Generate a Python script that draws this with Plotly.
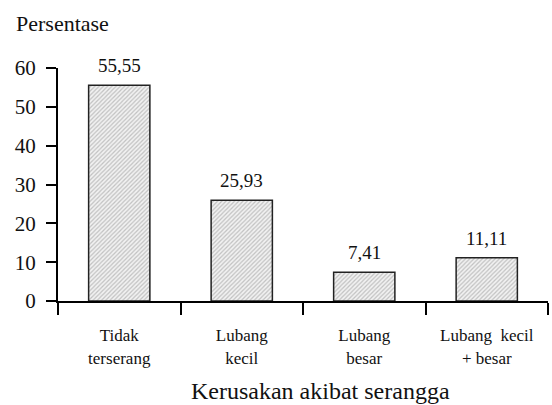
import plotly.graph_objects as go

categories = ["Tidak<br>terserang", "Lubang<br>kecil", "Lubang<br>besar", "Lubang\u2002kecil<br>+ besar"]
values = [55.55, 25.93, 7.41, 11.11]
value_labels = ["55,55", "25,93", "7,41", "11,11"]
y_ticks = [0, 10, 20, 30, 40, 50, 60]

FONT = "Liberation Serif, Times New Roman, serif"

fig = go.Figure()
fig.add_trace(go.Bar(
    x=categories, y=values, width=0.5,
    marker=dict(
        color="#f0f0f0",
        line=dict(color="#222", width=1.5),
        pattern=dict(shape="/", size=3, solidity=0.4, fgcolor="#909090", bgcolor="#f2f2f2"),
    ),
    hoverinfo="skip",
))

value_annotations = [
    dict(x=c, y=v, text=t, xref="x", yref="y", yanchor="bottom", yshift=7,
         showarrow=False, font=dict(family=FONT, size=19, color="#111"))
    for c, v, t in zip(categories, values, value_labels)
]

fig.update_layout(
    width=552, height=405,
    margin=dict(l=58, r=4, t=68, b=104),
    paper_bgcolor="white", plot_bgcolor="white",
    showlegend=False,
    font=dict(family=FONT, color="#111"),
    xaxis=dict(
        type="category", showline=True, linecolor="black", linewidth=2,
        ticks="outside", tickson="boundaries", ticklen=12, tickwidth=2, tickcolor="black",
        tickfont=dict(family=FONT, size=17), ticklabelstandoff=18,
        showgrid=False, zeroline=False,
    ),
    yaxis=dict(
        range=[0, 60], tickvals=y_ticks, showline=True, linecolor="black", linewidth=2,
        ticks="outside", ticklen=10, tickwidth=2, tickcolor="black",
        tickfont=dict(family=FONT, size=21), ticklabelstandoff=6,
        showgrid=False, zeroline=False,
    ),
    annotations=value_annotations + [
        dict(text="Persentase", xref="paper", yref="paper",
             x=(14 - 58) / 490, y=1 + (68 - 24) / 233, xanchor="left", yanchor="middle",
             showarrow=False, font=dict(family=FONT, size=22, color="#111")),
        dict(text="Kerusakan akibat serangga", xref="paper", yref="paper",
             x=(320 - 58) / 490, y=-(391 - 301) / 233, xanchor="center", yanchor="middle",
             showarrow=False, font=dict(family=FONT, size=24, color="#111")),
    ],
)

fig.write_html("out.html", config={"displayModeBar": False})
with open("out.html", "r", encoding="utf-8") as f:
    html = f.read()
html = html.replace("<head>", "<head><style>html,body{margin:0;padding:0;overflow:hidden;}</style>", 1)
with open("out.html", "w", encoding="utf-8") as f:
    f.write(html)
